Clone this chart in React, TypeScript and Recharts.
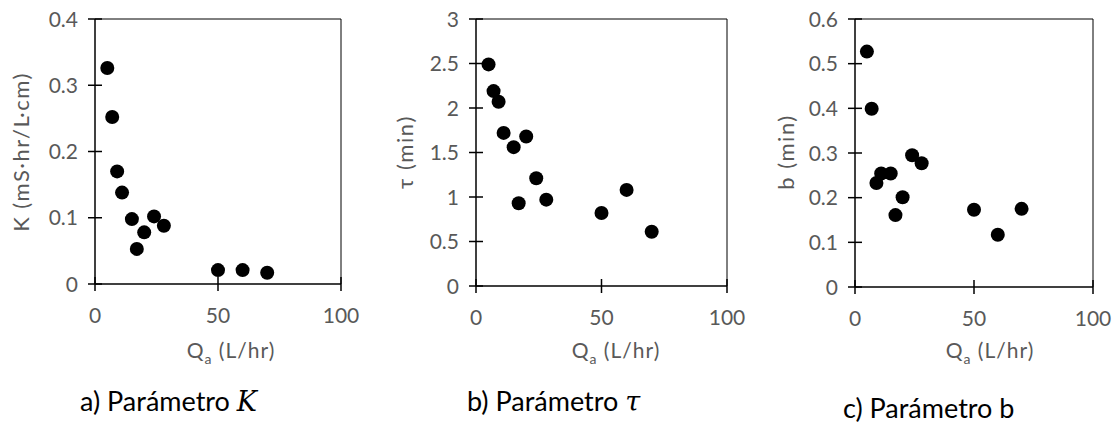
import React from 'react';
import { ScatterChart, Scatter, XAxis, YAxis, ReferenceLine } from 'recharts';

// Flow rate Qa (L/hr), shared by the three panels
const qa = [5, 7, 9, 11, 15, 17, 20, 24, 28, 50, 60, 70];
const kValues = [0.326, 0.252, 0.17, 0.138, 0.098, 0.053, 0.078, 0.102, 0.088, 0.021, 0.021, 0.017];
const tauValues = [2.49, 2.19, 2.07, 1.72, 1.56, 0.93, 1.68, 1.21, 0.97, 0.82, 1.08, 0.61];
const bValues = [0.527, 0.399, 0.233, 0.254, 0.254, 0.161, 0.201, 0.295, 0.277, 0.173, 0.117, 0.175];

const xTicks = [0, 50, 100];
const kTicks = [0, 0.1, 0.2, 0.3, 0.4];
const tauTicks = [0, 0.5, 1, 1.5, 2, 2.5, 3];
const bTicks = [0, 0.1, 0.2, 0.3, 0.4, 0.5, 0.6];

const FONT = 'Lato, "Open Sans", sans-serif';
const GREY = '#595959';

const toRows = (ys: number[]) => qa.map((q, i) => ({ q, v: ys[i] }));

const Dot = (props: any) => <circle cx={props.cx} cy={props.cy} r={7} fill="#000" />;

const YTick = (props: any) => {
  const { x, y, payload } = props;
  const axisX = x + 15;
  return (
    <g>
      <line x1={axisX - 7} x2={axisX + 7} y1={y} y2={y} stroke="#000" strokeWidth={1.5} />
      <text x={x - 2} y={y} dy="0.36em" textAnchor="end" fill={GREY} fontSize={21} fontFamily={FONT}>
        {payload.value}
      </text>
    </g>
  );
};

const XTick = (props: any) => {
  const { x, y, payload } = props;
  const axisY = y - 7;
  return (
    <g>
      <line x1={x} x2={x} y1={axisY - 7} y2={axisY + 7} stroke="#000" strokeWidth={1.5} />
      <text x={x} y={axisY + 39} textAnchor="middle" fill={GREY} fontSize={21} fontFamily={FONT}>
        {payload.value}
      </text>
    </g>
  );
};

interface PanelProps {
  left: number;
  width: number;
  margin: { top: number; right: number; bottom: number; left: number };
  values: number[];
  ticks: number[];
  yLabel: string;
  yLabelX: number;
  xLabelX: number;
  caption: React.ReactNode;
  captionX: number;
  captionY: number;
}

const Panel = ({ left, width, margin, values, ticks, yLabel, yLabelX, xLabelX, caption, captionX, captionY }: PanelProps) => {
  const yMax = ticks[ticks.length - 1];
  return (
    <>
      <div style={{ position: 'absolute', left, top: 0 }}>
        <ScatterChart width={width} height={425} margin={margin}>
          <XAxis
            type="number"
            dataKey="q"
            domain={[0, 100]}
            ticks={xTicks}
            height={30}
            tickSize={7}
            tickMargin={0}
            tickLine={false}
            axisLine={{ stroke: '#000', strokeWidth: 1.5 }}
            tick={<XTick />}
          />
          <YAxis
            type="number"
            dataKey="v"
            domain={[0, yMax]}
            ticks={ticks}
            width={60}
            tickSize={7}
            tickMargin={8}
            tickLine={false}
            axisLine={{ stroke: '#000', strokeWidth: 1.5 }}
            tick={<YTick />}
          />
          <ReferenceLine y={yMax} stroke="#000" strokeWidth={1} />
          <ReferenceLine x={100} stroke="#000" strokeWidth={1} />
          <Scatter data={toRows(values)} shape={<Dot />} isAnimationActive={false} />
        </ScatterChart>
      </div>
      <div
        style={{
          position: 'absolute',
          left: yLabelX,
          top: 152,
          transform: 'translate(-50%, -50%) rotate(-90deg)',
          whiteSpace: 'nowrap',
          color: GREY,
          fontFamily: FONT,
          fontSize: 22,
          letterSpacing: 1.5,
        }}
      >
        {yLabel}
      </div>
      <div
        style={{
          position: 'absolute',
          left: xLabelX,
          top: 352,
          transform: 'translate(-50%, -50%)',
          whiteSpace: 'nowrap',
          color: GREY,
          fontFamily: FONT,
          fontSize: 21,
          letterSpacing: 1,
        }}
      >
        Q<sub style={{ fontSize: 14 }}>a</sub> (L/hr)
      </div>
      <div
        style={{
          position: 'absolute',
          left: captionX,
          top: captionY,
          whiteSpace: 'nowrap',
          color: '#000',
          fontFamily: FONT,
          fontSize: 27,
          lineHeight: '30px',
        }}
      >
        {caption}
      </div>
    </>
  );
};

export default function App() {
  return (
    <div style={{ position: 'absolute', left: 0, top: 0, width: 1118, height: 425, background: '#fff', overflow: 'hidden' }}>
      <Panel
        left={0}
        width={370}
        margin={{ top: 19, right: 29, bottom: 111, left: 35 }}
        values={kValues}
        ticks={kTicks}
        yLabel="K (mS·hr/L·cm)"
        yLabelX={20}
        xLabelX={231}
        caption={<>a) Parámetro <i style={{ fontFamily: '"DejaVu Serif", serif' }}>K</i></>}
        captionX={80}
        captionY={386}
      />
      <Panel
        left={370}
        width={395}
        margin={{ top: 19, right: 38, bottom: 109, left: 46 }}
        values={tauValues}
        ticks={tauTicks}
        yLabel="τ (min)"
        yLabelX={404}
        xLabelX={616}
        caption={<>b) Parámetro <i style={{ fontFamily: '"DejaVu Serif", serif' }}>τ</i></>}
        captionX={467}
        captionY={386}
      />
      <Panel
        left={740}
        width={378}
        margin={{ top: 19, right: 25, bottom: 108, left: 55 }}
        values={bValues}
        ticks={bTicks}
        yLabel="b (min)"
        yLabelX={785}
        xLabelX={990}
        caption="c) Parámetro b"
        captionX={843}
        captionY={393}
      />
    </div>
  );
}
